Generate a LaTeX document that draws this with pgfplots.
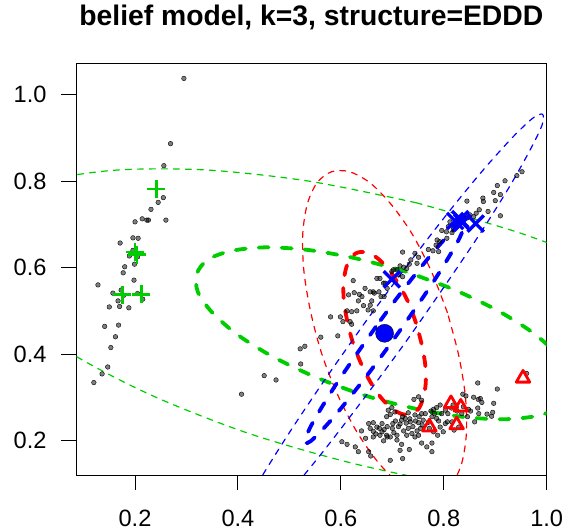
\documentclass[border=0pt]{standalone}
\usepackage{fontspec}
\setmainfont{Liberation Sans}
\usepackage{pgfplots}
\pgfplotsset{compat=1.18}
\definecolor{rgreen}{RGB}{0,205,0}
\definecolor{rred}{RGB}{255,0,0}
\definecolor{rblue}{RGB}{0,0,255}
\begin{document}
\begin{tikzpicture}
\path[use as bounding box] (-76pt,-57pt) rectangle (487pt,475pt);
\begin{axis}[
  at={(0pt,0pt)}, anchor=south west,
  scale only axis, width=470.7pt, height=411.7pt,
  xmin=0.0853, xmax=1.0, ymin=0.120, ymax=1.073,
  axis line style={line width=0.9pt},
  xtick={0.2,0.4,0.6,0.8,1.0}, xticklabels={0.2,0.4,0.6,0.8,1.0},
  ytick={0.2,0.4,0.6,0.8,1.0}, yticklabels={0.2,0.4,0.6,0.8,1.0},
  xtick pos=bottom, ytick pos=left, tick align=outside,
  major tick length=15pt, major tick style={line width=0.9pt, black},
  xticklabel style={font=\fontsize{23.6}{28}\selectfont, anchor=base, inner sep=0pt, yshift=-37pt},
  yticklabel style={font=\fontsize{23.6}{28}\selectfont, anchor=east, inner sep=0pt, xshift=-14.3pt},
  title={belief model, k=3, structure=EDDD},
  title style={at={(0.5,1)}, anchor=base, inner sep=0pt, yshift=31.6pt, font=\bfseries\fontsize{28.3}{34}\selectfont},
  thinell/.style={line width=1.2pt, dash pattern=on 6pt off 6pt, line cap=round, smooth, mark=none},
  thickell/.style={line width=3.8pt, dash pattern=on 10pt off 13pt, line cap=round, smooth, mark=none},
]
% gray data points
\addplot[only marks, mark=*, mark size=2.3pt, mark options={draw=none, fill=black, fill opacity=0.5}] coordinates {
(0.295,1.038) (0.269,0.887) (0.256,0.836) (0.255,0.762) (0.245,0.751) (0.231,0.735) (0.214,0.713) (0.223,0.710)
(0.226,0.710) (0.260,0.710) (0.200,0.706) (0.171,0.657) (0.196,0.669) (0.206,0.668) (0.189,0.627) (0.199,0.608)
(0.180,0.602) (0.177,0.588) (0.198,0.571) (0.128,0.560) (0.157,0.541) (0.173,0.548) (0.167,0.523) (0.215,0.527)
(0.150,0.509) (0.170,0.510) (0.188,0.507) (0.141,0.464) (0.168,0.467) (0.162,0.440) (0.153,0.415) (0.147,0.370)
(0.136,0.354) (0.120,0.334) (0.196,0.640) (0.205,0.625) (0.178,0.536) (0.205,0.540)
(0.952,0.822) (0.942,0.813) (0.919,0.801) (0.904,0.790) (0.897,0.774) (0.910,0.769) (0.900,0.755) (0.876,0.761)
(0.845,0.754) (0.877,0.753) (0.886,0.730) (0.910,0.720) (0.869,0.734) (0.863,0.726) (0.851,0.722) (0.845,0.722)
(0.838,0.718) (0.829,0.714) (0.812,0.706) (0.809,0.695) (0.819,0.691) (0.805,0.683) (0.796,0.686) (0.816,0.681)
(0.806,0.668) (0.787,0.664) (0.792,0.660) (0.785,0.652) (0.770,0.642) (0.779,0.639) (0.790,0.637) (0.720,0.636)
(0.744,0.633) (0.751,0.624) (0.736,0.618) (0.733,0.608) (0.748,0.610) (0.728,0.598) (0.715,0.604) (0.722,0.601)
(0.709,0.595) (0.702,0.595) (0.720,0.579) (0.712,0.583) (0.699,0.591) (0.670,0.575) (0.683,0.564) (0.690,0.552)
(0.674,0.544) (0.684,0.533) (0.663,0.544) (0.830,0.710) (0.835,0.705) (0.825,0.710) (0.840,0.712) (0.820,0.700)
(0.845,0.715) (0.858,0.718) (0.828,0.702)
(0.676,0.575) (0.686,0.564) (0.624,0.570) (0.647,0.552) (0.657,0.544) (0.665,0.541) (0.615,0.537) (0.626,0.542)
(0.636,0.538) (0.641,0.533) (0.678,0.533) (0.660,0.523) (0.634,0.523) (0.657,0.513) (0.644,0.512) (0.612,0.500)
(0.621,0.498) (0.631,0.500) (0.653,0.502) (0.663,0.500) (0.580,0.486) (0.599,0.486) (0.604,0.475) (0.618,0.475)
(0.621,0.469) (0.561,0.439) (0.594,0.442) (0.530,0.418) (0.521,0.412) (0.522,0.377) (0.451,0.350) (0.474,0.340)
(0.407,0.307)
(0.866,0.333) (0.904,0.319) (0.837,0.307) (0.843,0.303) (0.858,0.300) (0.867,0.295) (0.874,0.288) (0.897,0.286)
(0.751,0.301) (0.757,0.293) (0.742,0.295) (0.793,0.282) (0.786,0.276) (0.780,0.272) (0.803,0.270) (0.818,0.282)
(0.838,0.278) (0.848,0.272) (0.895,0.265) (0.884,0.261) (0.893,0.256) (0.860,0.243) (0.757,0.262) (0.744,0.259)
(0.731,0.264) (0.725,0.251) (0.735,0.243) (0.751,0.241) (0.760,0.247) (0.777,0.255) (0.786,0.251) (0.803,0.239)
(0.793,0.231) (0.799,0.220) (0.780,0.220) (0.696,0.260) (0.689,0.255) (0.701,0.239) (0.715,0.238) (0.718,0.247)
(0.663,0.241) (0.680,0.239) (0.654,0.239) (0.675,0.228) (0.663,0.221) (0.680,0.220) (0.676,0.212) (0.663,0.208)
(0.689,0.212) (0.696,0.208) (0.703,0.218) (0.709,0.212) (0.731,0.228) (0.738,0.216) (0.728,0.212) (0.748,0.222)
(0.755,0.228) (0.744,0.208) (0.751,0.212) (0.709,0.201) (0.718,0.191) (0.733,0.179) (0.715,0.177) (0.757,0.194)
(0.767,0.185) (0.777,0.194) (0.777,0.174) (0.720,0.158) (0.696,0.154) (0.690,0.208) (0.602,0.197) (0.612,0.191)
(0.628,0.185) (0.634,0.174) (0.654,0.174) (0.658,0.164) (0.699,0.276) (0.692,0.270) (0.705,0.266) (0.657,0.228)
(0.670,0.231) (0.683,0.199) (0.772,0.228) (0.788,0.212) (0.820,0.224) (0.807,0.243) (0.816,0.243) (0.829,0.231)
(0.871,0.297) (0.961,0.355)
(0.700,0.228) (0.706,0.245) (0.712,0.232) (0.720,0.255) (0.722,0.222) (0.727,0.240) (0.734,0.250) (0.740,0.232)
(0.745,0.245) (0.752,0.255) (0.758,0.236) (0.764,0.262) (0.770,0.242) (0.775,0.268) (0.782,0.262) (0.790,0.245)
(0.796,0.262) (0.808,0.262) (0.815,0.275) (0.826,0.268) (0.835,0.262) (0.846,0.255) (0.852,0.268) (0.866,0.275)
(0.868,0.262) (0.690,0.232) (0.668,0.215) (0.684,0.225) (0.648,0.205) (0.640,0.222)
};
% green ellipses
\addplot[thinell, color=rgreen] coordinates {
(0.747,0.750) (0.539,0.800) (0.340,0.826) (0.166,0.826) (0.026,0.801) (-0.068,0.751) (-0.112,0.681) (-0.101,0.595)
(-0.036,0.499) (0.078,0.400) (0.233,0.304) (0.419,0.217) (0.623,0.147) (0.831,0.096) (1.030,0.070) (1.204,0.070)
(1.344,0.095) (1.438,0.145) (1.482,0.215) (1.471,0.301) (1.406,0.397) (1.292,0.496) (1.137,0.593) (0.951,0.679)
(0.747,0.750)};
\addplot[thickell, color=rgreen] coordinates {
(0.723,0.592) (0.627,0.622) (0.536,0.641) (0.454,0.647) (0.388,0.639) (0.342,0.619) (0.320,0.586) (0.322,0.544)
(0.350,0.496) (0.400,0.444) (0.469,0.393) (0.554,0.345) (0.647,0.304) (0.743,0.274) (0.834,0.255) (0.916,0.249)
(0.982,0.257) (1.028,0.278) (1.050,0.310) (1.048,0.352) (1.020,0.400) (0.970,0.452) (0.901,0.503) (0.816,0.551)
(0.723,0.592)};
% red ellipses
\addplot[thinell, color=rred] coordinates {
(0.807,0.496) (0.776,0.591) (0.739,0.677) (0.698,0.746) (0.657,0.796) (0.617,0.822) (0.582,0.822) (0.554,0.797)
(0.535,0.748) (0.526,0.679) (0.528,0.594) (0.541,0.499) (0.563,0.400) (0.594,0.305) (0.631,0.220) (0.672,0.150)
(0.713,0.100) (0.753,0.074) (0.788,0.074) (0.816,0.099) (0.835,0.148) (0.844,0.217) (0.842,0.302) (0.829,0.397)
(0.807,0.496)};
\addplot[thickell, color=rred] coordinates {
(0.746,0.472) (0.731,0.520) (0.712,0.562) (0.692,0.597) (0.671,0.622) (0.651,0.635) (0.633,0.635) (0.619,0.623)
(0.610,0.598) (0.605,0.563) (0.606,0.521) (0.613,0.473) (0.624,0.424) (0.640,0.376) (0.658,0.334) (0.678,0.299)
(0.699,0.274) (0.719,0.261) (0.737,0.261) (0.751,0.273) (0.760,0.298) (0.765,0.333) (0.764,0.375) (0.757,0.423)
(0.746,0.472)};
% blue ellipses
\addplot[thinell, color=rblue] coordinates {
(0.650,0.478) (0.572,0.346) (0.501,0.220) (0.443,0.110) (0.402,0.024) (0.379,-0.034) (0.378,-0.059) (0.397,-0.050)
(0.436,-0.006) (0.492,0.068) (0.562,0.169) (0.639,0.288) (0.720,0.418) (0.798,0.551) (0.869,0.676) (0.927,0.786)
(0.968,0.873) (0.991,0.930) (0.992,0.955) (0.973,0.946) (0.934,0.902) (0.878,0.828) (0.809,0.728) (0.731,0.608)
(0.650,0.478)};
\addplot[thickell, color=rblue] coordinates {
(0.668,0.463) (0.629,0.397) (0.593,0.334) (0.564,0.279) (0.543,0.236) (0.532,0.207) (0.531,0.194) (0.541,0.198)
(0.561,0.221) (0.589,0.258) (0.623,0.308) (0.662,0.368) (0.702,0.433) (0.741,0.499) (0.777,0.562) (0.806,0.617)
(0.827,0.660) (0.838,0.689) (0.839,0.702) (0.829,0.697) (0.809,0.675) (0.781,0.638) (0.747,0.588) (0.708,0.528)
(0.668,0.463)};
% cluster members
\addplot[only marks, color=rgreen, mark=+, mark size=9pt, mark options={line width=2.8pt}] coordinates {
(0.241,0.782) (0.200,0.636) (0.204,0.630) (0.175,0.537) (0.212,0.538)};
\addplot[only marks, color=rblue, mark=x, mark size=11.5pt, mark options={line width=3.2pt}] coordinates {
(0.699,0.573) (0.822,0.708) (0.836,0.704) (0.832,0.712) (0.862,0.702)};
\addplot[only marks, color=rred, mark=triangle, mark size=7.8pt, mark options={line width=2.8pt, line join=round}] coordinates {
(0.814,0.285) (0.833,0.277) (0.772,0.231) (0.825,0.236) (0.954,0.344)};
\addplot[only marks, mark=*, mark size=9pt, mark options={draw=none, fill=rblue}] coordinates {(0.685,0.448)};
\end{axis}
\end{tikzpicture}
\end{document}
